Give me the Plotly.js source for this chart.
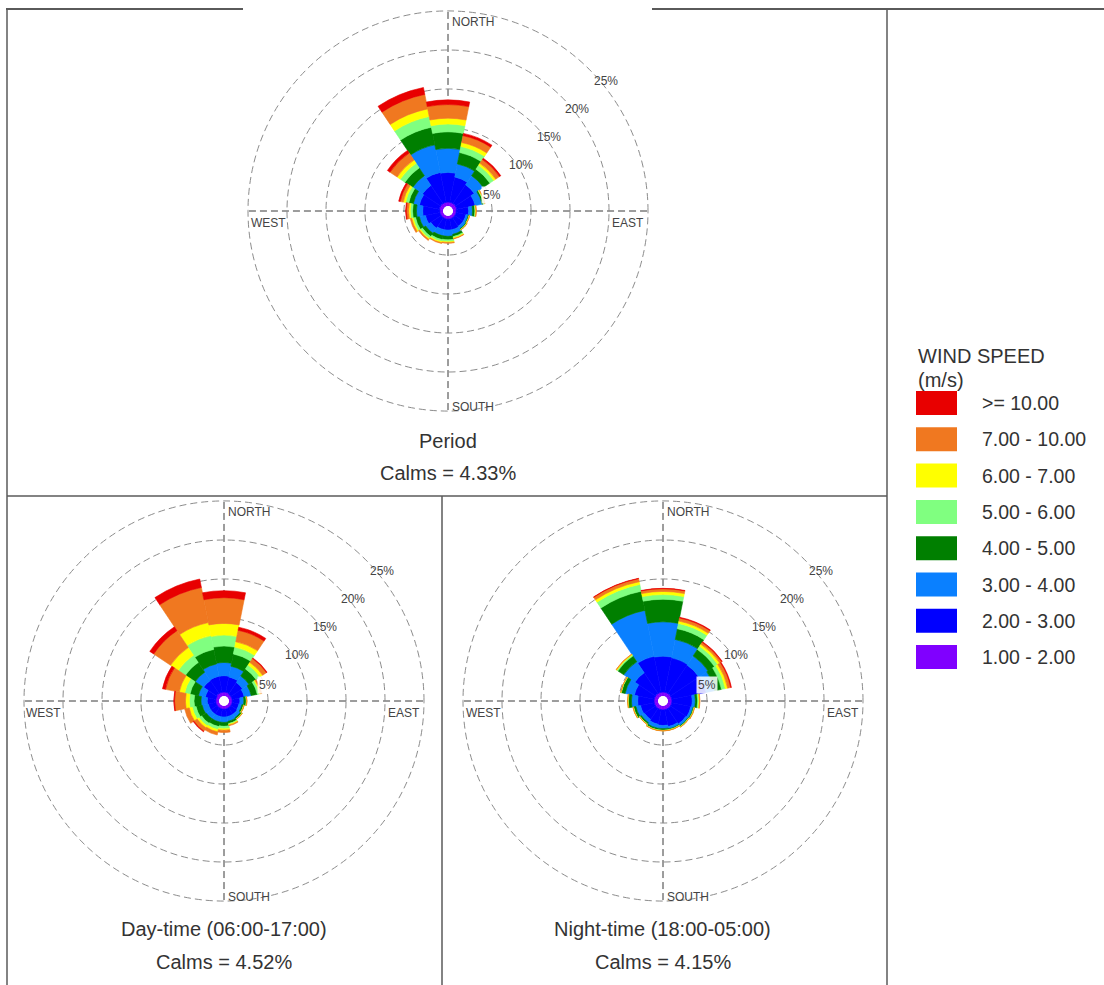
<!DOCTYPE html>
<html><head><meta charset="utf-8">
<script src="https://cdn.plot.ly/plotly-3.0.1.min.js"></script>
<style>html,body{margin:0;padding:0;background:#fff;} #chart{width:1104px;height:985px;}</style>
</head><body><div id="chart"></div>
<script>
// ---- data ----
const directions = ['N','NNE','NE','ENE','E','ESE','SE','SSE','S','SSW','SW','WSW','W','WNW','NW','NNW'];
const directionDeg = [0,22.5,45,67.5,90,112.5,135,157.5,180,202.5,225,247.5,270,292.5,315,337.5];
const speedClasses = ['1.00 - 2.00','2.00 - 3.00','3.00 - 4.00','4.00 - 5.00','5.00 - 6.00','6.00 - 7.00','7.00 - 10.00','>= 10.00'];
const classColors = ['#8000FF','#0000FF','#0A80FF','#007F00','#80FF80','#FFFF00','#F07820','#E80000'];

// Period (% frequency per direction, N..NNW)
const period_1_2   = [0.5,0.5,0.5,0.5,0.4,0.4,0.4,0.4,0.4,0.4,0.4,0.4,0.4,0.5,0.5,0.5];
const period_2_3   = [3.8,3.3,2.9,2.4,1.6,1.3,1.3,1.4,1.4,1.4,1.6,1.9,2.2,2.6,2.8,3.9];
const period_3_4   = [3.1,1.7,1.4,0.9,0.5,0.3,0.4,0.6,0.8,0.8,0.8,0.8,0.8,0.8,1.5,3.6];
const period_4_5   = [2.1,1.5,1.0,0.2,0.3,0.1,0.1,0.3,0.45,0.5,0.5,0.5,0.5,0.6,1.2,2.3];
const period_5_6   = [1.0,0.8,0.6,0.1,0.1,0.05,0.05,0.15,0.25,0.25,0.3,0.3,0.3,0.4,0.7,1.4];
const period_6_7   = [0.75,0.5,0.3,0.05,0.05,0.03,0.03,0.1,0.1,0.15,0.15,0.2,0.2,0.3,0.5,1.0];
const period_7_10  = [1.75,0.9,0.6,0.05,0.05,0.02,0.02,0.05,0.1,0.1,0.15,0.2,0.3,0.4,1.1,1.9];
const period_10up  = [0.6,0.3,0.2,0,0,0,0,0,0,0,0,0,0.1,0.2,0.4,0.9];

// Day-time
const day_1_2  = [0.5,0.5,0.4,0.4,0.4,0.4,0.4,0.4,0.4,0.4,0.4,0.4,0.4,0.4,0.5,0.5];
const day_2_3  = [2.1,2.0,1.8,1.6,1.0,0.9,1.0,1.0,1.0,1.0,1.0,1.0,1.1,1.4,2.0,2.1];
const day_3_4  = [1.7,1.4,1.0,0.9,0.5,0.4,0.5,0.6,0.7,0.7,0.7,0.8,0.8,0.9,1.3,1.6];
const day_4_5  = [2.1,1.6,1.1,0.8,0.3,0.2,0.2,0.3,0.5,0.6,0.7,0.8,0.9,1.1,1.5,1.9];
const day_5_6  = [1.4,0.9,0.6,0.3,0.05,0.05,0.05,0.1,0.3,0.4,0.4,0.5,0.6,0.7,1.1,1.8];
const day_6_7  = [1.5,0.7,0.4,0.15,0.03,0.03,0.03,0.1,0.2,0.3,0.3,0.4,0.5,0.7,1.2,1.7];
const day_7_10 = [3.3,1.5,0.6,0.15,0.02,0.02,0.02,0.1,0.3,0.4,0.5,0.6,1.4,1.8,2.6,4.6];
const day_10up = [0.9,0.4,0.1,0,0,0,0,0,0,0,0.1,0,0.1,0.4,0.6,1.1];

// Night-time
const night_1_2  = [0.5,0.5,0.5,0.5,0.5,0.5,0.5,0.5,0.5,0.5,0.5,0.5,0.5,0.5,0.5,0.5];
const night_2_3  = [4.6,4.5,4.4,4.5,2.6,2.5,2.4,2.2,2.0,1.9,1.7,1.8,2.1,2.6,3.2,4.7];
const night_3_4  = [4.4,2.4,1.4,1.1,0.4,0.3,0.3,0.3,0.4,0.5,0.5,0.6,0.8,1.2,1.7,6.0];
const night_4_5  = [2.9,1.4,1.0,0.9,0.3,0.1,0.1,0.1,0.2,0.2,0.2,0.3,0.4,0.5,0.9,2.5];
const night_5_6  = [0.6,0.7,0.5,0.5,0.15,0.05,0.05,0.05,0.05,0.05,0.05,0.05,0.05,0.05,0.15,0.9];
const night_6_7  = [0.4,0.3,0.3,0.3,0.1,0.03,0.03,0.03,0.03,0.03,0.03,0.03,0.03,0.03,0.1,0.35];
const night_7_10 = [0.35,0.4,0.3,0.4,0.05,0.02,0.02,0.02,0.02,0.02,0.02,0.02,0.02,0.02,0.05,0.4];
const night_10up = [0.05,0.1,0.1,0.1,0,0,0,0,0,0,0,0,0,0,0,0.05];

const roseTitles = ['Period','Day-time (06:00-17:00)','Night-time (18:00-05:00)'];
const calmsText  = ['Calms = 4.33%','Calms = 4.52%','Calms = 4.15%'];
const ringValues = [5,10,15,20,25];
const ringLabels = ['5%','10%','15%','20%','25%'];
const compassLabels = ['NORTH','EAST','SOUTH','WEST'];

// ---- layout helpers ----
const W = 1104, H = 985;
const RMAX = 25.3, HOLE = 0.025;
// domain radius chosen so that the 25% ring lands 200 px from the centre
const R = 200 / (HOLE + (1 - HOLE) * 25 / RMAX);
const X = p => p / W, Y = p => 1 - p / H;
const centers = [[448,211],[224,701],[663,701]];
const subplots = ['polar','polar2','polar3'];
const roses = [
  [period_1_2,period_2_3,period_3_4,period_4_5,period_5_6,period_6_7,period_7_10,period_10up],
  [day_1_2,day_2_3,day_3_4,day_4_5,day_5_6,day_6_7,day_7_10,day_10up],
  [night_1_2,night_2_3,night_3_4,night_4_5,night_5_6,night_6_7,night_7_10,night_10up]
];
const FONT = 'Liberation Sans, Arial, sans-serif';

const traces = [];
roses.forEach((rose, i) => {
  rose.forEach((vals, k) => {
    traces.push({
      type: 'barpolar', subplot: subplots[i],
      r: vals, theta: directionDeg, width: 22.5,
      name: speedClasses[k],
      marker: {color: classColors[k], line: {width: 0.6, color: classColors[k]}},
      showlegend: false, hoverinfo: 'skip'
    });
  });
});

function polarLayout(c) {
  return {
    domain: {x: [X(c[0]-R), X(c[0]+R)], y: [Y(c[1]+R), Y(c[1]-R)]},
    bgcolor: 'rgba(0,0,0,0)',
    hole: HOLE,
    barmode: 'stack',
    radialaxis: {range: [0, RMAX], tickvals: ringValues, showticklabels: false, ticks: '',
      showline: false, gridcolor: '#8c8c8c', griddash: '7px,4px', gridwidth: 1},
    angularaxis: {rotation: 90, direction: 'clockwise', thetaunit: 'degrees',
      tickvals: [0,90,180,270], showticklabels: false, ticks: '', showline: false,
      gridcolor: '#3a3a3a', griddash: '7px,4px', gridwidth: 1}
  };
}

const annotations = [];
const txt = (x, y, text, size, opts) => Object.assign({
  xref: 'paper', yref: 'paper', x: X(x), y: Y(y), text: text, showarrow: false,
  xanchor: 'center', yanchor: 'middle', font: {family: FONT, size: size, color: '#333'}
}, opts || {});

const compassOffsets = [[25,-189],[180,12],[25,196],[-180,12]];
const ringOffsets = [[44,-16],[73,-46],[101,-74],[129,-102],[158,-130]];
centers.forEach((c, i) => {
  compassLabels.forEach((lab, j) => {
    annotations.push(txt(c[0]+compassOffsets[j][0], c[1]+compassOffsets[j][1], lab, 12, {font:{family: FONT, size: 12, color: '#444'}}));
  });
  ringLabels.forEach((lab, j) => {
    annotations.push(txt(c[0]+ringOffsets[j][0], c[1]+ringOffsets[j][1], lab, 12,
      {font:{family: FONT, size: 12, color: '#444'}, bgcolor: j === 0 ? 'rgba(255,255,255,0.85)' : undefined}));
  });
});
const titleY = [[441,473],[929,962],[929,962]];
centers.forEach((c, i) => {
  annotations.push(txt(c[0], titleY[i][0], roseTitles[i], 20));
  annotations.push(txt(c[0], titleY[i][1], calmsText[i], 20));
});

// legend
annotations.push(txt(916, 356, 'WIND SPEED', 20, {xanchor: 'left'}));
annotations.push(txt(916, 380, '(m/s)', 20, {xanchor: 'left'}));
const shapes = [];
const legendOrder = speedClasses.map((s, k) => k).reverse();
legendOrder.forEach((k, row) => {
  const yc = 403 + 36.3 * row;
  shapes.push({type: 'rect', xref: 'paper', yref: 'paper', x0: X(916), x1: X(957), y0: Y(yc+12), y1: Y(yc-12),
    fillcolor: classColors[k], line: {width: 0}});
  annotations.push(txt(980, yc, speedClasses[k], 19.5, {xanchor: 'left'}));
});

// frame lines
const frameColor = '#5a5a5a';
const seg = (x0, y0, x1, y1, w) => ({type: 'line', xref: 'paper', yref: 'paper',
  x0: X(x0), y0: Y(y0), x1: X(x1), y1: Y(y1), line: {color: frameColor, width: w}});
shapes.push(seg(6, 9, 243, 9, 2));
shapes.push(seg(652, 9, 1104, 9, 2));
shapes.push(seg(7, 9, 7, 985, 1.5));
shapes.push(seg(887, 9, 887, 985, 1.5));
shapes.push(seg(7, 496, 887, 496, 1.5));
shapes.push(seg(442, 496, 442, 985, 1.5));

const layout = {
  width: W, height: H,
  margin: {l: 0, r: 0, t: 0, b: 0},
  paper_bgcolor: '#ffffff',
  showlegend: false,
  polar: polarLayout(centers[0]),
  polar2: polarLayout(centers[1]),
  polar3: polarLayout(centers[2]),
  annotations: annotations,
  shapes: shapes
};

Plotly.newPlot('chart', traces, layout, {displayModeBar: false, staticPlot: true});
</script>
</body></html>
